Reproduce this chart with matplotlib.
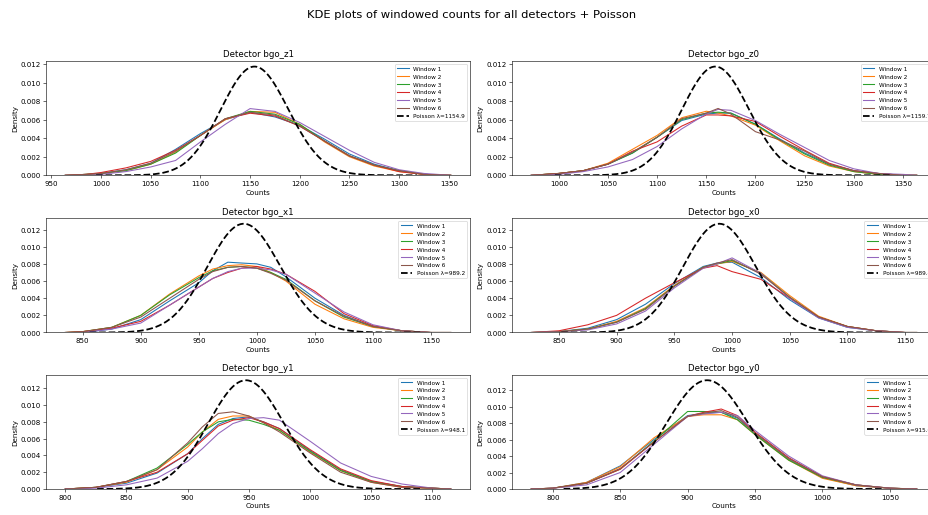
import math
import numpy as np
import matplotlib
matplotlib.use("Agg")
import matplotlib.pyplot as plt

detectors = ['bgo_z1', 'bgo_z0', 'bgo_x1', 'bgo_x0', 'bgo_y1', 'bgo_y0']
poisson_lambda = [1154.9, 1159.7, 989.2, 989.4, 948.1, 915.0]
# min / max windowed counts per detector, range of the Poisson curve
count_lo = [995, 996, 856, 852, 826, 808]
count_hi = [1318, 1337, 1141, 1130, 1092, 1044]
window_labels = ['Window 1', 'Window 2', 'Window 3', 'Window 4', 'Window 5', 'Window 6']

# KDE density of each window, sampled on a per-detector grid of counts
grid_z1 = [964, 985, 1000, 1025, 1050, 1075, 1100, 1125, 1150, 1175, 1200, 1225, 1250, 1275, 1300, 1325, 1352]
kde_z1 = [
    [0, 0.0001, 0.0002, 0.0006, 0.0013, 0.0028, 0.0045, 0.0060, 0.0068, 0.0063, 0.0054, 0.0039, 0.0023, 0.0012, 0.0005, 0.0001, 0],
    [0, 0.0001, 0.0002, 0.0005, 0.0012, 0.0025, 0.0043, 0.0060, 0.0069, 0.0068, 0.0055, 0.0036, 0.0020, 0.0010, 0.0004, 0.0001, 0],
    [0, 0.0001, 0.0002, 0.0005, 0.0012, 0.0024, 0.0043, 0.0061, 0.0069, 0.0066, 0.0055, 0.0037, 0.0021, 0.0011, 0.0005, 0.0001, 0],
    [0, 0.0001, 0.0003, 0.0008, 0.0015, 0.0027, 0.0043, 0.0061, 0.0067, 0.0064, 0.0053, 0.0037, 0.0021, 0.0011, 0.0004, 0.0001, 0],
    [0, 0.0000, 0.0001, 0.0004, 0.0009, 0.0016, 0.0036, 0.0055, 0.0072, 0.0069, 0.0057, 0.0042, 0.0027, 0.0014, 0.0006, 0.0002, 0],
    [0, 0.0001, 0.0002, 0.0006, 0.0013, 0.0026, 0.0043, 0.0061, 0.0068, 0.0065, 0.0053, 0.0037, 0.0021, 0.0011, 0.0005, 0.0001, 0],
]

grid_z0 = [972, 1000, 1025, 1050, 1075, 1100, 1125, 1150, 1162, 1175, 1200, 1225, 1250, 1275, 1300, 1325, 1350, 1364]
kde_z0 = [
    [0, 0.0002, 0.0005, 0.0012, 0.0024, 0.0041, 0.0059, 0.0066, 0.0067, 0.0067, 0.0055, 0.0039, 0.0024, 0.0012, 0.0005, 0.0002, 0, 0],
    [0, 0.0002, 0.0005, 0.0013, 0.0028, 0.0043, 0.0062, 0.0069, 0.0067, 0.0064, 0.0054, 0.0037, 0.0021, 0.0010, 0.0004, 0.0001, 0, 0],
    [0, 0.0002, 0.0005, 0.0012, 0.0024, 0.0041, 0.0060, 0.0067, 0.0068, 0.0067, 0.0055, 0.0038, 0.0023, 0.0011, 0.0004, 0.0001, 0, 0],
    [0, 0.0002, 0.0005, 0.0012, 0.0026, 0.0036, 0.0053, 0.0065, 0.0065, 0.0064, 0.0058, 0.0042, 0.0027, 0.0013, 0.0005, 0.0002, 0, 0],
    [0, 0.0001, 0.0004, 0.0009, 0.0017, 0.0031, 0.0050, 0.0066, 0.0071, 0.0070, 0.0059, 0.0044, 0.0030, 0.0016, 0.0007, 0.0002, 0.0001, 0],
    [0, 0.0002, 0.0005, 0.0012, 0.0025, 0.0041, 0.0061, 0.0067, 0.0072, 0.0066, 0.0047, 0.0038, 0.0026, 0.0012, 0.0005, 0.0002, 0, 0],
]

grid_x1 = [835, 850, 875, 900, 925, 950, 962, 975, 987, 1000, 1012, 1025, 1050, 1075, 1100, 1125, 1150, 1167]
kde_x1 = [
    [0, 0.0000, 0.0004, 0.0015, 0.0037, 0.0058, 0.0072, 0.0082, 0.0081, 0.0080, 0.0076, 0.0065, 0.0040, 0.0020, 0.0007, 0.0002, 0, 0],
    [0, 0.0001, 0.0006, 0.0020, 0.0045, 0.0066, 0.0074, 0.0078, 0.0079, 0.0077, 0.0070, 0.0060, 0.0033, 0.0016, 0.0006, 0.0002, 0, 0],
    [0, 0.0001, 0.0006, 0.0020, 0.0044, 0.0064, 0.0072, 0.0076, 0.0077, 0.0075, 0.0070, 0.0062, 0.0037, 0.0018, 0.0007, 0.0002, 0, 0],
    [0, 0.0001, 0.0005, 0.0013, 0.0032, 0.0053, 0.0063, 0.0070, 0.0075, 0.0077, 0.0074, 0.0068, 0.0048, 0.0022, 0.0008, 0.0002, 0, 0],
    [0, 0.0000, 0.0004, 0.0011, 0.0032, 0.0053, 0.0063, 0.0071, 0.0075, 0.0075, 0.0073, 0.0068, 0.0046, 0.0024, 0.0009, 0.0002, 0, 0],
    [0, 0.0001, 0.0006, 0.0018, 0.0040, 0.0062, 0.0071, 0.0076, 0.0077, 0.0075, 0.0069, 0.0061, 0.0037, 0.0019, 0.0007, 0.0002, 0, 0],
]

grid_x0 = [826, 850, 875, 900, 925, 950, 975, 987, 1000, 1025, 1050, 1075, 1100, 1125, 1150, 1160]
kde_x0 = [
    [0, 0.0001, 0.0005, 0.0015, 0.0033, 0.0057, 0.0077, 0.0081, 0.0082, 0.0064, 0.0038, 0.0017, 0.0006, 0.0002, 0, 0],
    [0, 0.0001, 0.0004, 0.0013, 0.0029, 0.0055, 0.0076, 0.0080, 0.0083, 0.0070, 0.0043, 0.0019, 0.0007, 0.0002, 0, 0],
    [0, 0.0001, 0.0004, 0.0012, 0.0028, 0.0054, 0.0076, 0.0080, 0.0084, 0.0069, 0.0041, 0.0018, 0.0007, 0.0002, 0, 0],
    [0, 0.0002, 0.0009, 0.0020, 0.0040, 0.0058, 0.0075, 0.0078, 0.0071, 0.0062, 0.0040, 0.0018, 0.0007, 0.0002, 0, 0],
    [0, 0.0001, 0.0003, 0.0010, 0.0025, 0.0052, 0.0075, 0.0080, 0.0087, 0.0069, 0.0040, 0.0017, 0.0006, 0.0002, 0, 0],
    [0, 0.0001, 0.0004, 0.0012, 0.0027, 0.0054, 0.0076, 0.0081, 0.0085, 0.0068, 0.0041, 0.0018, 0.0007, 0.0002, 0, 0],
]

grid_y1 = [800, 825, 850, 875, 900, 912, 925, 937, 950, 962, 975, 1000, 1025, 1050, 1075, 1100, 1115]
kde_y1 = [
    [0, 0.0002, 0.0007, 0.0019, 0.0042, 0.0060, 0.0077, 0.0084, 0.0086, 0.0080, 0.0072, 0.0046, 0.0023, 0.0009, 0.0003, 0.0001, 0],
    [0, 0.0002, 0.0008, 0.0023, 0.0050, 0.0068, 0.0083, 0.0087, 0.0087, 0.0079, 0.0070, 0.0044, 0.0022, 0.0008, 0.0002, 0.0001, 0],
    [0, 0.0002, 0.0009, 0.0025, 0.0053, 0.0068, 0.0080, 0.0083, 0.0082, 0.0077, 0.0070, 0.0045, 0.0022, 0.0009, 0.0003, 0.0001, 0],
    [0, 0.0002, 0.0009, 0.0020, 0.0042, 0.0058, 0.0075, 0.0082, 0.0085, 0.0080, 0.0072, 0.0047, 0.0024, 0.0010, 0.0003, 0.0001, 0],
    [0, 0.0001, 0.0005, 0.0013, 0.0033, 0.0048, 0.0066, 0.0078, 0.0084, 0.0085, 0.0082, 0.0057, 0.0031, 0.0015, 0.0006, 0.0001, 0],
    [0, 0.0002, 0.0009, 0.0023, 0.0055, 0.0074, 0.0090, 0.0092, 0.0087, 0.0079, 0.0068, 0.0043, 0.0020, 0.0008, 0.0002, 0.0001, 0],
]

grid_y0 = [784, 800, 825, 850, 875, 900, 912, 925, 937, 950, 975, 1000, 1025, 1050, 1070]
kde_y0 = [
    [0, 0.0001, 0.0008, 0.0028, 0.0060, 0.0089, 0.0092, 0.0093, 0.0086, 0.0067, 0.0036, 0.0014, 0.0004, 0.0001, 0],
    [0, 0.0001, 0.0008, 0.0027, 0.0062, 0.0088, 0.0090, 0.0090, 0.0084, 0.0066, 0.0035, 0.0013, 0.0004, 0.0001, 0],
    [0, 0.0001, 0.0007, 0.0024, 0.0058, 0.0094, 0.0094, 0.0093, 0.0084, 0.0066, 0.0035, 0.0014, 0.0005, 0.0001, 0],
    [0, 0.0001, 0.0007, 0.0024, 0.0057, 0.0088, 0.0093, 0.0097, 0.0089, 0.0069, 0.0038, 0.0015, 0.0005, 0.0001, 0],
    [0, 0.0001, 0.0005, 0.0020, 0.0054, 0.0088, 0.0091, 0.0093, 0.0089, 0.0071, 0.0040, 0.0016, 0.0005, 0.0001, 0],
    [0, 0.0001, 0.0007, 0.0025, 0.0057, 0.0088, 0.0092, 0.0095, 0.0087, 0.0068, 0.0037, 0.0015, 0.0005, 0.0001, 0],
]

grids = [grid_z1, grid_z0, grid_x1, grid_x0, grid_y1, grid_y0]
kdes = [kde_z1, kde_z0, kde_x1, kde_x0, kde_y1, kde_y0]


def poisson_pmf(k, lam):
    return np.array([math.exp(kk * math.log(lam) - lam - math.lgamma(kk + 1)) for kk in k])


fig = plt.figure(figsize=(18, 10))
# [left, bottom, width, height] of the six panels
col_left = [0.0496, 0.5517]
row_bottom = [0.6589, 0.354, 0.0504]
panel_w = 0.4569
panel_h = 0.2215

for i, det in enumerate(detectors):
    ax = fig.add_axes([col_left[i % 2], row_bottom[i // 2], panel_w, panel_h])
    for w, dens in enumerate(kdes[i]):
        ax.plot(grids[i], dens, color='C%d' % w, lw=1.5, label=window_labels[w])
    k = np.arange(count_lo[i], count_hi[i] + 1)
    ax.plot(k, poisson_pmf(k, poisson_lambda[i]), 'k--', lw=2.5,
            label=f'Poisson λ={poisson_lambda[i]:.1f}')
    ax.set_ylim(bottom=0)
    ax.set_title(f'Detector {det}')
    ax.set_xlabel('Counts')
    ax.set_ylabel('Density')
    ax.legend(loc='upper right', fontsize=8)

fig.suptitle('KDE plots of windowed counts for all detectors + Poisson', fontsize=16, x=0.508)
fig.savefig('out.png', dpi=928 / 18)
